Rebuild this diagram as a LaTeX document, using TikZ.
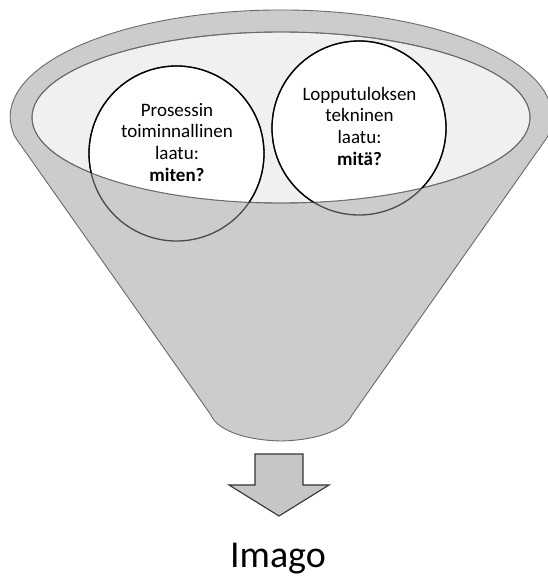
\documentclass[tikz,border=0pt]{standalone}
\usepackage{fontspec}
\setmainfont{Carlito}
\definecolor{funnelgray}{HTML}{CCCCCC}
\definecolor{funnelline}{HTML}{6A6A6A}
\definecolor{mouthgray}{HTML}{F0F0F0}
\definecolor{arrowgray}{HTML}{C6C6C6}
\definecolor{ringdim}{HTML}{4A4A4A}
\tikzset{
  funnelbody/.style={fill=funnelgray, draw=funnelline, line width=0.9pt, line join=round},
  mouth/.style={fill=mouthgray, draw=funnelline, line width=0.9pt},
  ringfill/.style={fill=white},
  ringline/.style={draw=black, line width=1.3pt},
  ringlinedim/.style={draw=ringdim, line width=1.3pt},
  blockarrow/.style={fill=arrowgray, draw=black!80, line width=1.1pt, line join=miter},
  ringtext/.style={align=center, inner sep=0pt, font=\fontsize{19}{21.6}\selectfont},
  resulttext/.style={inner sep=0pt, font=\fontsize{38}{44}\selectfont}
}
\begin{document}
\begin{tikzpicture}[x=1pt, y=1pt, yscale=-1]
  \useasboundingbox (0,0) rectangle (547,583);

  % centres of the mouth ellipse and the two rings
  \coordinate (mouthc) at (281,117.5);
  \coordinate (ringL) at (176.5,153.5);
  \coordinate (ringR) at (359,128);

  % funnel body: top rim arc, straight sides, rounded spout
  \path[funnelbody] (211,415) -- (15,137)
    arc[start angle=169.2, end angle=370.8, x radius=271, y radius=107]
    -- (352,415)
    .. controls (346,428) and (322,440) .. (281,441)
    .. controls (240,440) and (216,428) .. (211,415) -- cycle;

  % opening of the funnel
  \path[mouth] (mouthc) ellipse[x radius=249, y radius=85.5];

  % rings are white only inside the opening
  \begin{scope}
    \clip (mouthc) ellipse[x radius=249, y radius=85.5];
    \path[ringfill] (ringL) circle[radius=87.5];
    \path[ringfill] (ringR) circle[radius=87];
  \end{scope}
  \path[draw=funnelline, line width=0.9pt] (mouthc) ellipse[x radius=249, y radius=85.5];

  % ring outlines: softer below the rim, black inside it
  \path[ringlinedim] (ringL) circle[radius=87.5];
  \path[ringlinedim] (ringR) circle[radius=87];
  \begin{scope}
    \clip (mouthc) ellipse[x radius=249, y radius=85.5];
    \path[ringline] (ringL) circle[radius=87.5];
    \path[ringline] (ringR) circle[radius=87];
  \end{scope}

  % ring labels (base anchor sits on the last line)
  \node[ringtext, anchor=base] (txtL) at (177,181)
    {Prosessin\\toiminnallinen\\laatu:\\\textbf{miten?}};
  \node[ringtext, anchor=base] (txtR) at (359.5,165)
    {Lopputuloksen\\tekninen\\laatu:\\\textbf{mitä?}};

  % downward block arrow
  \path[blockarrow] (255,454) -- (303,454) -- (303,485) -- (329,485)
    -- (279,516) -- (229,485) -- (255,485) -- cycle;

  % result
  \node[resulttext, anchor=base] (imago) at (278,567) {Imago};
\end{tikzpicture}
\end{document}
